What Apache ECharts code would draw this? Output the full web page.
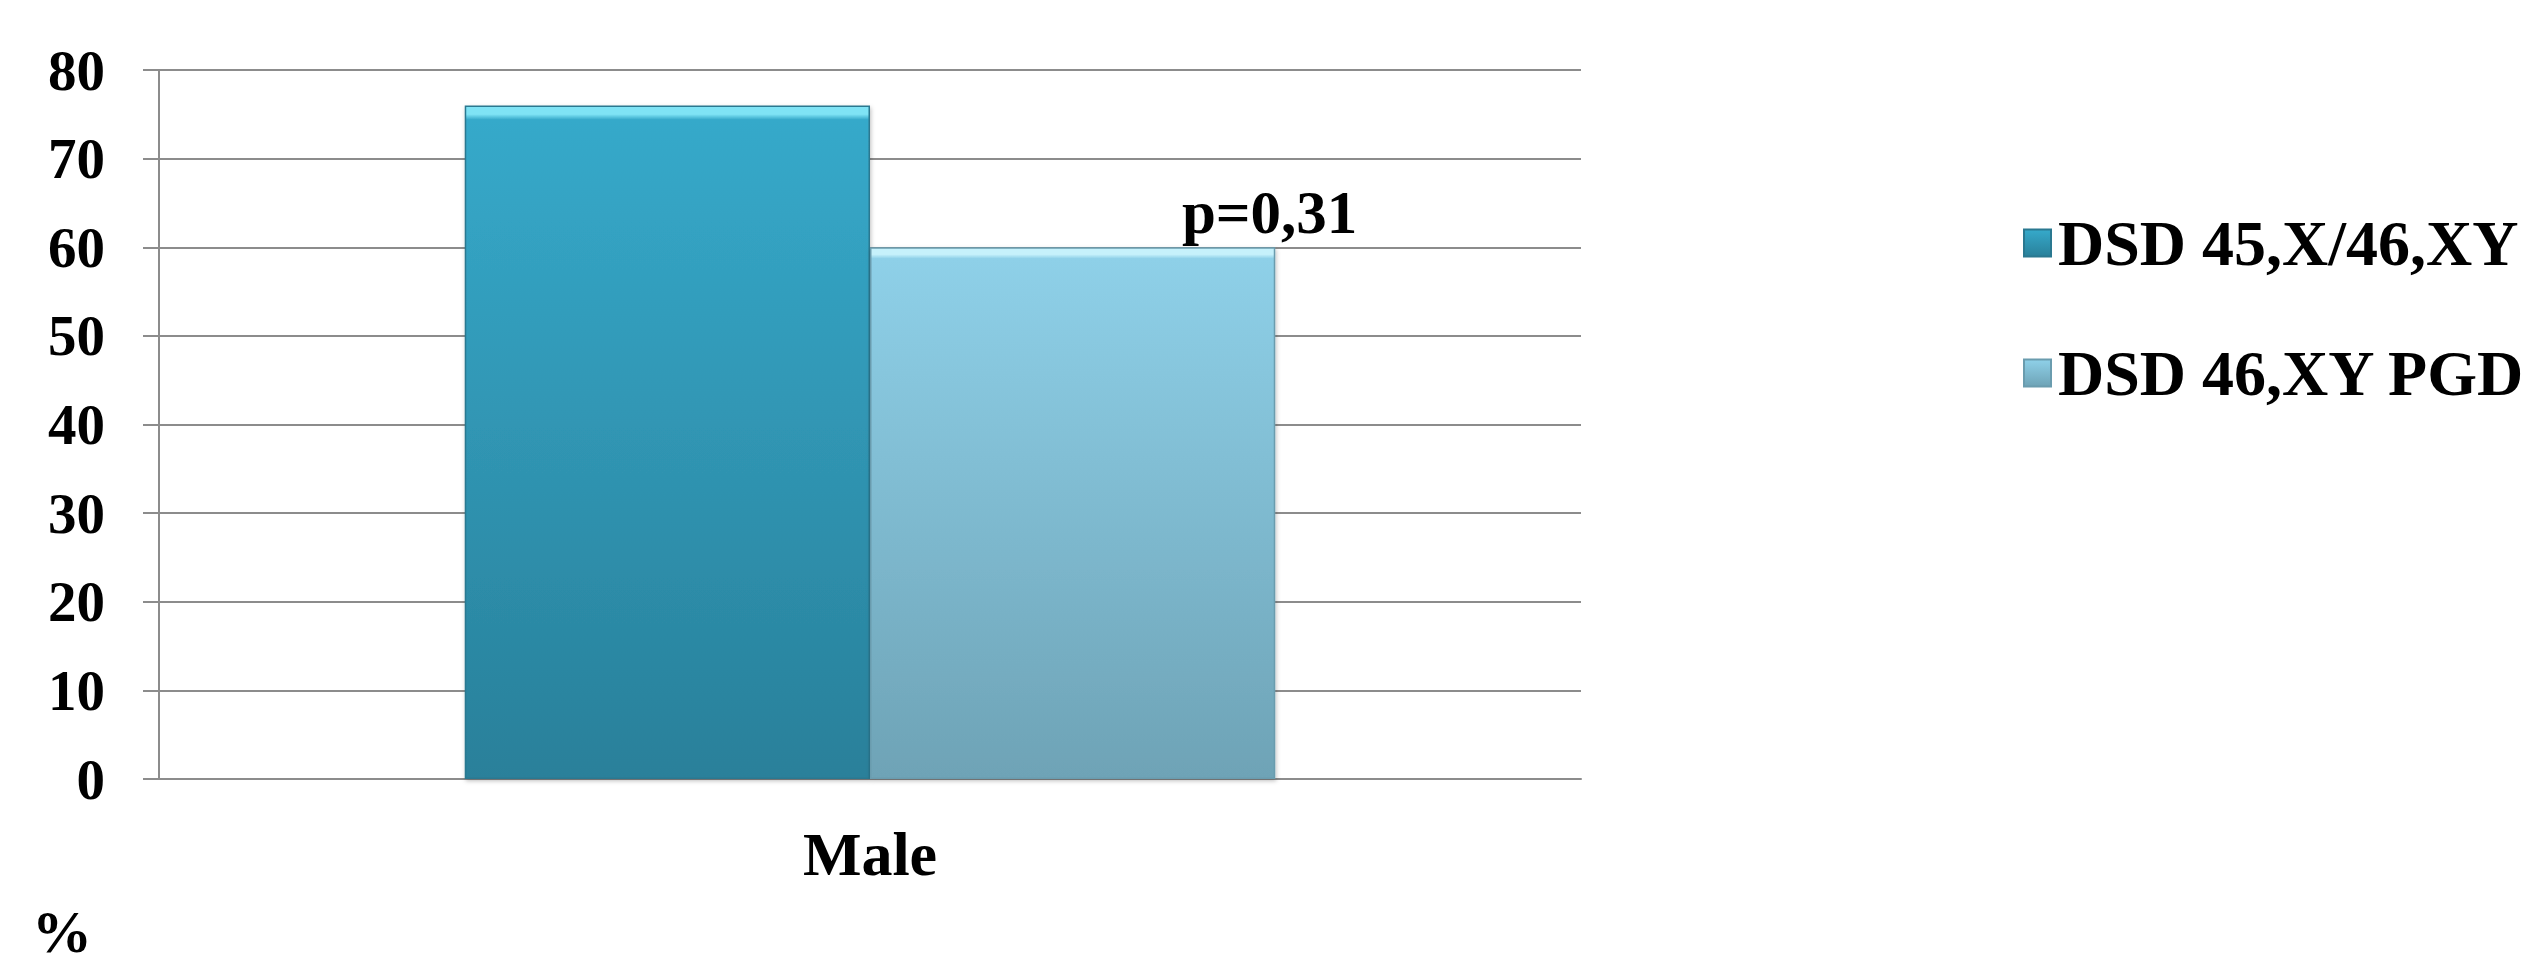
<!DOCTYPE html>
<html>
<head>
<meta charset="utf-8">
<script src="https://cdn.jsdelivr.net/npm/echarts@6/dist/echarts.min.js"></script>
<style>
  html, body { margin: 0; padding: 0; background: #ffffff; }
  #chart { width: 2540px; height: 966px; }
</style>
</head>
<body>
<div id="chart"></div>
<script>
// Share of male sex assignment (%) by DSD karyotype group
var categories = ['Male'];
var seriesNames = ['DSD 45,X/46,XY', 'DSD 46,XY PGD'];
var mosaicValues = [76];
var pgdValues = [60];
var pValueText = 'p=0,31';
var yTicks = { min: 0, max: 80, interval: 10 };

var FONT = '"Liberation Serif", "Times New Roman", serif';

function bevelGradient(light, top, bottom) {
  return new echarts.graphic.LinearGradient(0, 0, 0, 1, [
    { offset: 0, color: light },
    { offset: 0.012, color: light },
    { offset: 0.02, color: top },
    { offset: 1, color: bottom }
  ]);
}

var chart = echarts.init(document.getElementById('chart'), null, { renderer: 'svg' });

chart.setOption({
  animation: false,
  backgroundColor: '#ffffff',
  grid: { left: 159, right: 959, top: 70, bottom: 187, containLabel: false },
  legend: {
    orient: 'vertical',
    left: 2018,
    top: 206,
    itemWidth: 27,
    itemHeight: 27,
    itemGap: 66,
    icon: 'rect',
    textStyle: { fontFamily: FONT, fontWeight: 'bold', fontSize: 64, color: '#000', lineHeight: 64, padding: [0, 0, 0, 2] },
    data: seriesNames
  },
  xAxis: {
    type: 'category',
    data: categories,
    axisLine: { show: true, lineStyle: { color: '#8c8c8c', width: 2 } },
    axisTick: { show: false },
    axisLabel: { fontFamily: FONT, fontWeight: 'bold', fontSize: 62, color: '#000', margin: 44 }
  },
  yAxis: {
    type: 'value',
    min: yTicks.min,
    max: yTicks.max,
    interval: yTicks.interval,
    axisLine: { show: true, lineStyle: { color: '#8c8c8c', width: 2 } },
    axisTick: { show: true, length: 16, lineStyle: { color: '#8c8c8c', width: 2 } },
    splitLine: { show: true, lineStyle: { color: '#8c8c8c', width: 2 } },
    axisLabel: { fontFamily: FONT, fontWeight: 'bold', fontSize: 57, color: '#000', margin: 54 }
  },
  series: [
    {
      name: seriesNames[0],
      type: 'bar',
      data: mosaicValues,
      barGap: '0%',
      barCategoryGap: '43%',
      itemStyle: {
        color: bevelGradient('#7fe3f5', '#36a9ca', '#29809a'),
        borderColor: '#2a7890',
        borderWidth: 1.5,
        shadowColor: 'rgba(0,0,0,0.25)',
        shadowBlur: 4,
        shadowOffsetX: 1,
        shadowOffsetY: 2
      }
    },
    {
      name: seriesNames[1],
      type: 'bar',
      data: pgdValues,
      itemStyle: {
        color: bevelGradient('#c6f1fb', '#8ed0e8', '#6ea3b6'),
        borderColor: '#6a9cae',
        borderWidth: 1.5,
        shadowColor: 'rgba(0,0,0,0.25)',
        shadowBlur: 4,
        shadowOffsetX: 1,
        shadowOffsetY: 2
      },
      label: {
        show: true,
        position: 'top',
        distance: 4,
        offset: [197, 0],
        formatter: pValueText,
        fontFamily: FONT,
        fontWeight: 'bold',
        fontSize: 61,
        color: '#000'
      }
    }
  ],
  graphic: [
    {
      type: 'text',
      left: 32,
      top: 902,
      style: { text: '%', fontFamily: FONT, fontWeight: 'bold', fontSize: 60, fill: '#000' }
    }
  ]
});
</script>
</body>
</html>
